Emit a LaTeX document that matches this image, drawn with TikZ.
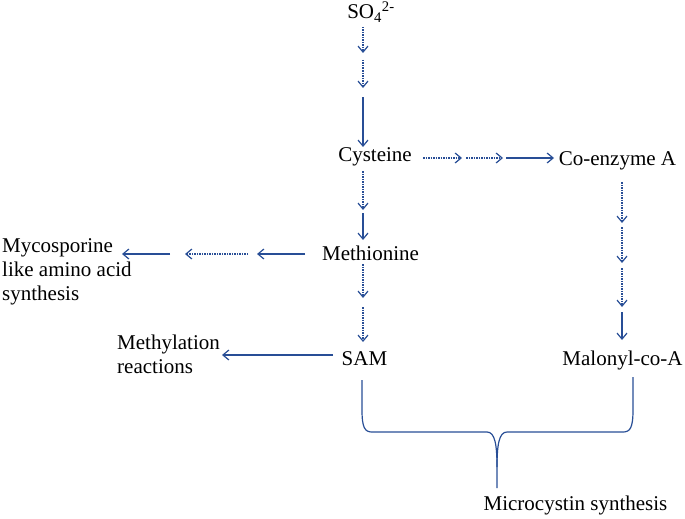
\documentclass[tikz,border=0pt]{standalone}
\usepackage{fontspec}
\setmainfont{Liberation Serif}
\usetikzlibrary{arrows.meta}
\definecolor{pathblue}{RGB}{40,78,150}

\begin{document}
\begin{tikzpicture}[x=1pt,y=-1pt,
  compound/.style={inner sep=0pt,font=\fontsize{21}{24}\selectfont},
  solidstep/.style={draw=pathblue,line width=1.2pt,-{Straight Barb[length=6pt,width=10pt]}},
  dotstep/.style={solidstep,dash pattern=on 1.5pt off 1pt}]
\useasboundingbox (0,0) rectangle (685,519);
% NODES
\node[compound,anchor=base] (so4) at (371,19) {SO\textsubscript{4}\textsuperscript{2-}};
\node[compound,anchor=base] (cys) at (375,161) {Cysteine};
\node[compound,anchor=base] (coa) at (617.5,165) {Co-enzyme A};
\node[compound,anchor=base] (met) at (370.5,260) {Methionine};
\node[compound,anchor=base] (sam) at (364.5,365) {SAM};
\node[compound,anchor=base] (mal) at (622.5,365) {Malonyl-co-A};
\node[compound,anchor=base] (mcyst) at (575.5,510) {Microcystin synthesis};
\node[compound,anchor=north west,align=left] (myco) at (2,238) {Mycosporine\\like amino acid\\synthesis};
\node[compound,anchor=north west,align=left] (methyl) at (117,335) {Methylation\\reactions};

% STEP POINTS
\coordinate (so4a) at (363,27);  \coordinate (so4b) at (363,53);
\coordinate (so4c) at (363,60);  \coordinate (so4d) at (363,88);
\coordinate (so4e) at (363,97);  \coordinate (cysin) at (363,147);

\coordinate (cysa) at (363,171); \coordinate (cysb) at (363,210);
\coordinate (cysc) at (363,213); \coordinate (metin) at (363,240);

\coordinate (meta) at (363,264); \coordinate (metb) at (363,298);
\coordinate (metc) at (363,307); \coordinate (samin) at (363,342);

\coordinate (cysr) at (423,158); \coordinate (cysr1) at (462,158);
\coordinate (cysr2) at (466,158); \coordinate (cysr3) at (503,158);
\coordinate (cysr4) at (506,158); \coordinate (coain) at (554,158);

\coordinate (coaa) at (622,182); \coordinate (coab) at (622,223);
\coordinate (coac) at (622,227); \coordinate (coad) at (622,263);
\coordinate (coae) at (622,268); \coordinate (coaf) at (622,307);
\coordinate (coag) at (622,312); \coordinate (malin) at (622,340);

\coordinate (metl) at (305,254); \coordinate (metl1) at (257,254);
\coordinate (metl2) at (248,254); \coordinate (metl3) at (185,254);
\coordinate (metl4) at (170,254); \coordinate (mycoin) at (122,254);

\coordinate (saml) at (333,355); \coordinate (methylin) at (222,355);

% CONNECTIONS
\draw[dotstep] (so4a) -- (so4b);
\draw[dotstep] (so4c) -- (so4d);
\draw[solidstep] (so4e) -- (cysin);

\draw[dotstep] (cysa) -- (cysb);
\draw[solidstep] (cysc) -- (metin);

\draw[dotstep] (meta) -- (metb);
\draw[dotstep] (metc) -- (samin);

\draw[dotstep] (cysr) -- (cysr1);
\draw[dotstep] (cysr2) -- (cysr3);
\draw[solidstep] (cysr4) -- (coain);

\draw[dotstep] (coaa) -- (coab);
\draw[dotstep] (coac) -- (coad);
\draw[dotstep] (coae) -- (coaf);
\draw[solidstep] (coag) -- (malin);

\draw[solidstep] (metl) -- (metl1);
\draw[dotstep] (metl2) -- (metl3);
\draw[solidstep] (metl4) -- (mycoin);

\draw[solidstep] (saml) -- (methylin);

% BRACE
\draw[pathblue,line width=1.2pt] (362,380) -- (362,410)
  .. controls (362,428) and (365,432) .. (372,432) -- (487,432)
  .. controls (495,432) and (497,445) .. (497,467) -- (497,488);
\draw[pathblue,line width=1.2pt] (633,377) -- (633,410)
  .. controls (633,428) and (630,432) .. (623,432) -- (507,432)
  .. controls (499,432) and (497,445) .. (497,467);
\end{tikzpicture}
\end{document}
